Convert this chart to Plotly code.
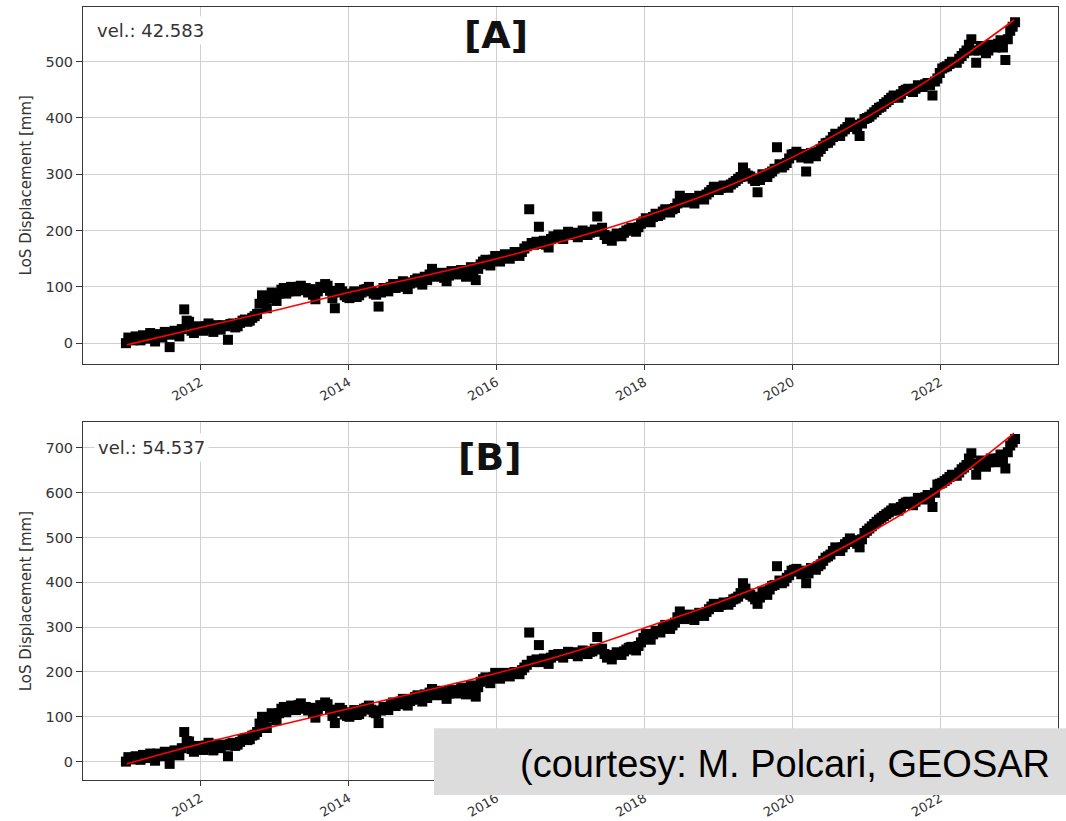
import pandas as pd
import plotly.graph_objects as go

# ---------------- data ----------------
# two interleaved acquisition sets (every 24 days, offset by 12 days)
ACQ_START_1 = "2010-12-28"
ACQ_START_2 = "2011-01-09"
ACQ_STEP = "24D"

disp_A = [
    0, 8, 12, 5, 10, 18, 3, 15, 20, -7, 22, 12, 60, 38, 18, 30,
    22, 35, 20, 28, 32, 6, 35, 30, 40, 38, 45, 52, 85, 62, 90,
    75, 95, 88, 100, 92, 102, 98, 96, 78, 100, 105, 93, 62, 98, 85,
    80, 92, 85, 95, 100, 88, 65, 98, 92, 105, 100, 110, 96, 108, 115, 104,
    112, 132, 118, 125, 110, 128, 122, 130, 118, 135, 112, 140, 148, 138, 155,
    145, 158, 150, 162, 155, 168, 238, 175, 207, 182, 170, 190, 193, 185, 198,
    195, 188, 200, 192, 198, 225, 205, 185, 182, 195, 190, 200, 205, 198, 212,
    222, 215, 230, 228, 238, 232, 240, 262, 250, 258, 248, 262, 255, 268, 278,
    272, 280, 276, 285, 292, 312, 298, 292, 268, 300, 295, 305, 348, 312, 320, 335,
    340, 330, 305, 338, 332, 345, 355, 360, 372, 368, 380, 392, 385, 368, 398,
    402, 410, 418, 425, 432, 440, 436, 448, 452, 446, 458, 455, 462, 440, 470,
    488, 492, 500, 498, 510, 520, 540, 498, 528, 515, 530, 525, 538, 503, 555, 570,
]
disp_A2 = [
    10, 5, 9, 14, 8, 12, 16, 10, 18, 15, 20, 25, 40, 22, 26, 28,
    30, 26, 32, 24, 30, 34, 28, 36, 42, 40, 48, 70, 75, 80, 85,
    88, 98, 92, 96, 100, 94, 90, 86, 92, 98, 102, 80, 90, 92, 82,
    88, 82, 90, 96, 92, 86, 90, 95, 100, 98, 104, 102, 106, 112, 108, 118,
    122, 124, 120, 116, 120, 125, 128, 124, 128, 126, 132, 145, 142, 148, 150,
    152, 154, 156, 158, 162, 172, 178, 180, 176, 175, 185, 188, 190, 192, 196,
    192, 196, 194, 196, 202, 198, 192, 188, 190, 193, 196, 202, 200, 206, 216,
    218, 224, 226, 234, 235, 238, 248, 255, 252, 254, 256, 258, 264, 272, 274,
    276, 278, 282, 288, 295, 302, 296, 288, 290, 298, 302, 310, 318, 316, 328, 336,
    334, 336, 328, 335, 340, 350, 356, 366, 370, 376, 384, 388, 380, 390, 400,
    406, 414, 420, 428, 436, 438, 442, 450, 448, 452, 456, 460, 458, 465, 480,
    490, 496, 499, 505, 515, 530, 520, 520, 522, 520, 528, 532, 525, 540, 562,
]

disp_B = [
    0, 8, 12, 4, 10, 18, 2, 16, 22, -5, 25, 14, 66, 45, 22, 35,
    26, 42, 25, 34, 38, 12, 42, 38, 50, 48, 58, 66, 100, 75, 108,
    92, 118, 110, 125, 115, 130, 122, 120, 98, 126, 132, 116, 86, 120, 105,
    100, 115, 106, 118, 125, 110, 86, 122, 115, 132, 128, 140, 125, 138, 148, 134,
    142, 162, 148, 158, 140, 160, 152, 165, 150, 170, 145, 178, 188, 175, 198,
    185, 198, 190, 200, 195, 210, 288, 222, 260, 230, 218, 238, 240, 232, 245,
    242, 235, 248, 240, 246, 278, 252, 232, 228, 244, 238, 250, 256, 248, 266,
    285, 272, 292, 288, 305, 296, 310, 335, 318, 328, 316, 332, 325, 340, 352,
    345, 355, 350, 362, 368, 398, 375, 368, 352, 380, 372, 392, 436, 398, 410, 426,
    430, 418, 398, 432, 428, 440, 455, 462, 478, 470, 485, 498, 490, 478, 510,
    520, 530, 540, 548, 556, 565, 560, 575, 580, 572, 588, 585, 595, 568, 618,
    622, 630, 640, 638, 652, 662, 688, 640, 672, 658, 676, 668, 685, 654, 705, 720,
]
disp_B2 = [
    10, 5, 9, 15, 8, 12, 18, 12, 20, 16, 24, 30, 46, 28, 30, 32,
    36, 32, 38, 30, 36, 40, 35, 44, 52, 50, 60, 85, 92, 98, 104,
    108, 122, 116, 120, 126, 118, 114, 108, 116, 124, 128, 102, 112, 115, 102,
    110, 104, 112, 120, 116, 108, 114, 120, 126, 124, 134, 132, 135, 144, 140, 150,
    154, 156, 152, 150, 152, 158, 160, 158, 162, 160, 166, 184, 182, 188, 192,
    192, 194, 196, 198, 204, 216, 225, 228, 222, 226, 232, 236, 238, 240, 244,
    240, 244, 244, 245, 252, 250, 240, 236, 238, 242, 246, 254, 252, 258, 276,
    278, 284, 290, 298, 300, 304, 322, 326, 322, 324, 326, 330, 334, 346, 348,
    350, 352, 356, 364, 376, 386, 372, 362, 366, 376, 384, 394, 404, 402, 416, 428,
    424, 426, 420, 430, 436, 448, 458, 470, 474, 478, 490, 494, 486, 496, 515,
    525, 535, 544, 552, 560, 562, 568, 578, 576, 580, 586, 590, 590, 600, 620,
    626, 635, 639, 645, 656, 676, 665, 660, 665, 668, 672, 676, 670, 690, 712,
]

fit_dates = ["2011-01-01", "2012-01-01", "2013-01-01", "2014-01-01", "2015-01-01",
             "2016-01-01", "2017-01-01", "2018-01-01", "2019-01-01", "2020-01-01",
             "2021-01-01", "2022-01-01", "2023-01-01"]
fit_A = [-3, 28, 58, 90, 119, 150, 185, 225, 272, 330, 401, 481, 574]
fit_B = [-5, 40, 79, 118, 157, 197, 243, 298, 355, 421, 506, 606, 733]

tick_dates = ["2012-01-01", "2014-01-01", "2016-01-01", "2018-01-01", "2020-01-01", "2022-01-01"]
tick_labels = ["2012", "2014", "2016", "2018", "2020", "2022"]

vel_A = "vel.: 42.583"
vel_B = "vel.: 54.537"
panel_A = "[A]"
panel_B = "[B]"
y_title = "LoS Displacement [mm]"
credit = "(courtesy: M. Polcari, GEOSAR"

dates_A = list(pd.date_range(ACQ_START_1, periods=len(disp_A), freq=ACQ_STEP)) + \
          list(pd.date_range(ACQ_START_2, periods=len(disp_A2), freq=ACQ_STEP))
vals_A = disp_A + disp_A2
dates_B = list(pd.date_range(ACQ_START_1, periods=len(disp_B), freq=ACQ_STEP)) + \
          list(pd.date_range(ACQ_START_2, periods=len(disp_B2), freq=ACQ_STEP))
vals_B = disp_B + disp_B2

# ---------------- figure ----------------
W, H = 1066, 821
ML, MR, MT, MB = 83, 8, 6, 41
PH = H - MT - MB
PW = W - ML - MR

fig = go.Figure()

marker = dict(symbol="square", size=10, color="black", line=dict(width=0))
fig.add_trace(go.Scatter(x=dates_A, y=vals_A, mode="markers", xaxis="x", yaxis="y",
                         marker=marker, showlegend=False, hoverinfo="skip"))
fig.add_trace(go.Scatter(x=fit_dates, y=fit_A, mode="lines", xaxis="x", yaxis="y",
                         line=dict(color="#ff0000", width=1.6, shape="spline"),
                         showlegend=False))
fig.add_trace(go.Scatter(x=dates_B, y=vals_B, mode="markers", xaxis="x2", yaxis="y2",
                         marker=marker, showlegend=False, hoverinfo="skip"))
fig.add_trace(go.Scatter(x=fit_dates, y=fit_B, mode="lines", xaxis="x2", yaxis="y2",
                         line=dict(color="#ff0000", width=1.6, shape="spline"),
                         showlegend=False))

def ydom(top_px, bot_px):
    return [(H - MB - bot_px) / PH, (H - MB - top_px) / PH]

ytickfont = dict(family="DejaVu Sans", size=14.5, color="#333333")
xtickfont = dict(family="DejaVu Sans", size=13, color="#333333")
xcommon = dict(type="date", range=["2010-05-30", "2023-08-06"],
               tickvals=tick_dates, ticktext=tick_labels, tickangle=-30,
               showgrid=True, gridcolor="#d0d0d0", gridwidth=1,
               showline=True, mirror=True, linecolor="#383838", linewidth=1,
               ticks="outside", ticklen=5, tickcolor="#383838",
               tickfont=xtickfont, zeroline=False, automargin=False)
ycommon = dict(showgrid=True, gridcolor="#d0d0d0", gridwidth=1,
               showline=True, mirror=True, linecolor="#383838", linewidth=1,
               ticks="outside", ticklen=6, tickcolor="#383838",
               tickfont=ytickfont, zeroline=False, dtick=100, automargin=False,
               title=dict(text=y_title, font=dict(family="DejaVu Sans", size=15, color="#333333"),
                          standoff=10))

fig.update_layout(
    width=W, height=H,
    margin=dict(l=ML, r=MR, t=MT, b=MB, autoexpand=False),
    paper_bgcolor="white", plot_bgcolor="white",
    xaxis=dict(xcommon, domain=[0, 1], anchor="y"),
    yaxis=dict(ycommon, domain=ydom(6.5, 364), range=[-37, 598], anchor="x", tick0=0),
    xaxis2=dict(xcommon, domain=[0, 1], anchor="y2"),
    yaxis2=dict(ycommon, domain=ydom(422.3, 780), range=[-41, 757], anchor="x2", tick0=0),
)

def xd(px):
    return (px - ML) / PW

annots = [
    dict(text=vel_A, xref="x domain", yref="y domain", x=xd(93), y=(364 - 31) / (364 - 6.5),
         xanchor="left", yanchor="middle", showarrow=False, bgcolor="white", borderpad=3,
         font=dict(family="DejaVu Sans", size=18, color="#333333")),
    dict(text="<b>" + panel_A + "</b>", xref="x domain", yref="y domain", x=xd(495.5),
         y=(364 - 35) / (364 - 6.5),
         xanchor="center", yanchor="middle", showarrow=False,
         font=dict(family="DejaVu Sans", size=38, color="#111111")),
    dict(text=vel_B, xref="x2 domain", yref="y2 domain", x=xd(94), y=(780 - 447.5) / (780 - 422.3),
         xanchor="left", yanchor="middle", showarrow=False, bgcolor="white", borderpad=3,
         font=dict(family="DejaVu Sans", size=18, color="#333333")),
    dict(text="<b>" + panel_B + "</b>", xref="x2 domain", yref="y2 domain", x=xd(490),
         y=(780 - 457.5) / (780 - 422.3),
         xanchor="center", yanchor="middle", showarrow=False,
         font=dict(family="DejaVu Sans", size=38, color="#111111")),
    dict(text=credit, xref="paper", yref="paper",
         x=xd(518), y=(H - MB - 764) / PH,
         xanchor="left", yanchor="middle", showarrow=False,
         font=dict(family="Liberation Sans", size=38, color="black")),
]
fig.update_layout(annotations=annots)

fig.add_shape(type="rect", xref="paper", yref="paper", layer="above",
              x0=xd(434), x1=xd(W + 5),
              y0=(H - MB - 795) / PH, y1=(H - MB - 728.3) / PH,
              fillcolor="#dcdcdc", line=dict(width=0))

fig.write_html("out.html")
